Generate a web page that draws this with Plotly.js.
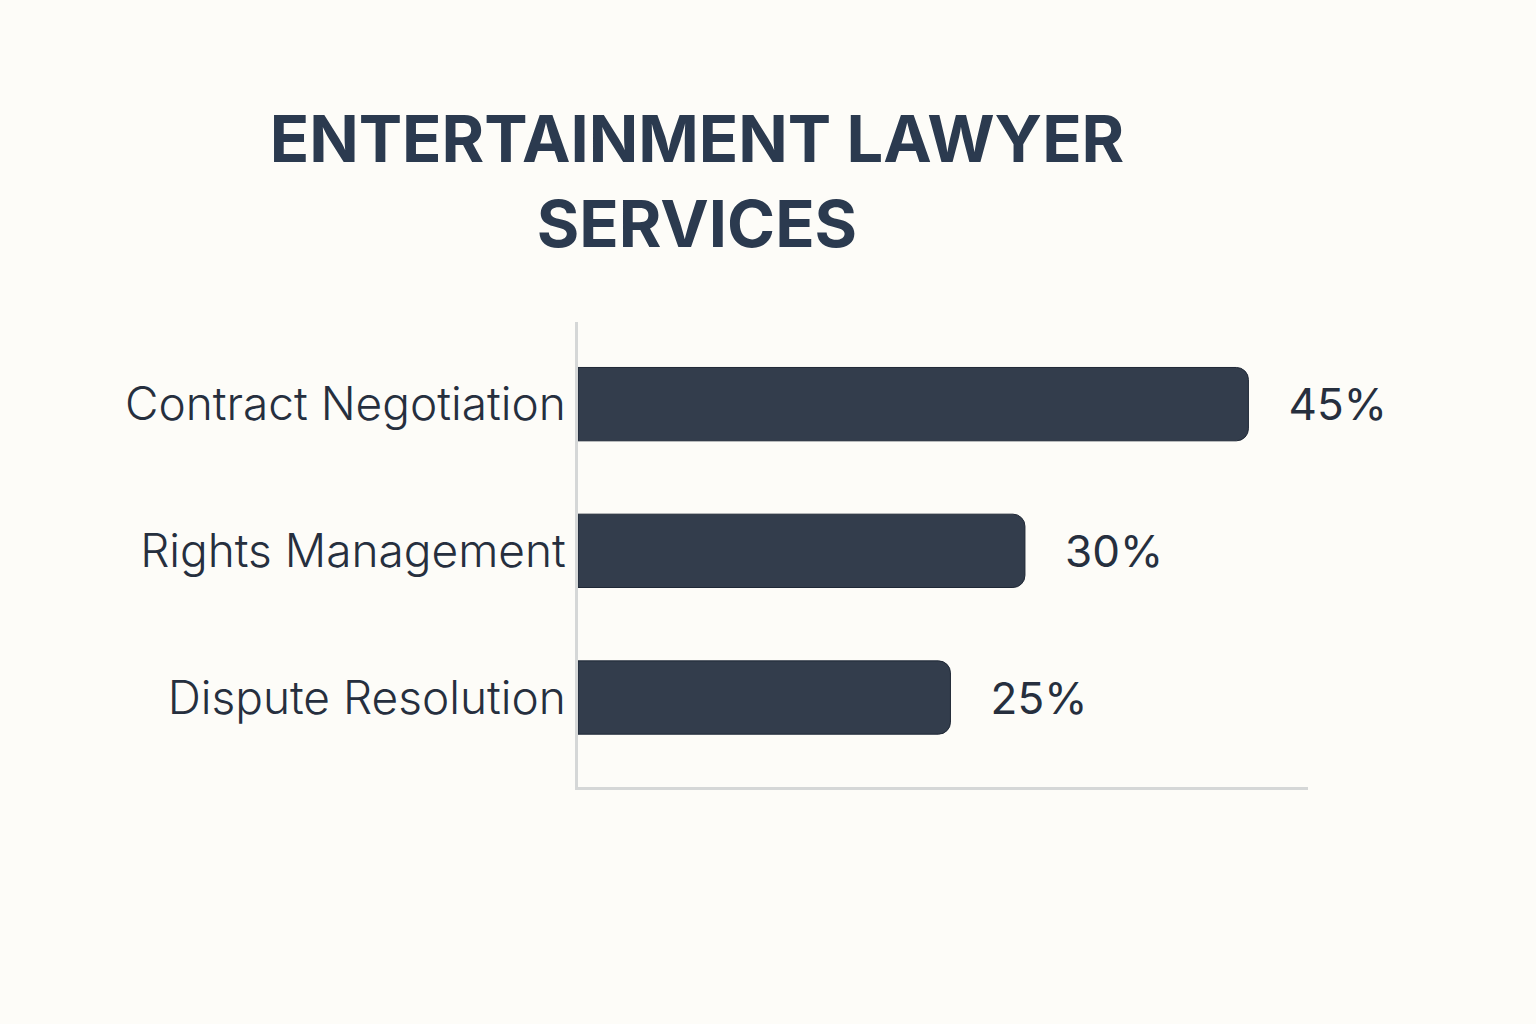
<!DOCTYPE html>
<html>
<head>
<meta charset="utf-8">
<script src="https://cdn.plot.ly/plotly-3.0.1.min.js"></script>
<style>
  html, body { margin: 0; padding: 0; background: #fdfcf8; }
  #chart { width: 1536px; height: 1024px; }
</style>
</head>
<body>
<div id="chart"></div>
<script>
// Share of entertainment-lawyer work by service (percent).
// Listed bottom -> top so Contract Negotiation sits at the top of the axis.
const services = ["Dispute Resolution", "Rights Management", "Contract Negotiation"];
const shares = [25, 30, 45];

const BAR = "#333d4c";
const BAR_EDGE = "#1f2836";
const INK = "#262f3e";
const TITLE_INK = "#2b3a4f";
const AXIS = "#d5d7d7";
const BG = "#fdfcf8";

const trace = {
  type: "bar",
  orientation: "h",
  x: shares,
  y: services,
  width: 0.5,
  marker: { color: BAR, line: { color: BAR_EDGE, width: 1 }, cornerradius: 12 },
  text: shares.map((v) => v + "%"),
  texttemplate: "\u00a0\u00a0\u00a0%{text}",
  textposition: "outside",
  cliponaxis: false,
  textfont: { family: "Inter, 'Noto Sans', sans-serif", size: 44, color: INK },
  hoverinfo: "skip",
};

const layout = {
  width: 1536,
  height: 1024,
  paper_bgcolor: BG,
  plot_bgcolor: BG,
  showlegend: false,
  margin: { l: 578, r: 228, t: 322, b: 237, pad: 0 },
  font: { family: "Inter, 'Noto Sans', sans-serif", color: INK },
  title: {
    text: "ENTERTAINMENT LAWYER<br>SERVICES",
    font: { family: "Inter, 'Noto Sans', sans-serif", size: 65, weight: 700, color: TITLE_INK },
    x: 697 / 1536,
    xanchor: "center",
    xref: "container",
    y: 1 - 162 / 1024,
    yanchor: "top",
    yref: "container",
  },
  xaxis: {
    range: [0, 49],
    showgrid: false,
    zeroline: false,
    showticklabels: false,
    ticks: "",
    showline: true,
    linecolor: AXIS,
    linewidth: 3,
    fixedrange: true,
  },
  yaxis: {
    type: "category",
    range: [-0.61, 2.56],
    showgrid: false,
    zeroline: false,
    ticks: "",
    showline: true,
    linecolor: AXIS,
    linewidth: 3,
    ticklabelstandoff: 0,
    tickfont: { family: "Inter, 'Noto Sans', sans-serif", size: 46, weight: 300, color: INK },
    fixedrange: true,
  },
};

Plotly.newPlot("chart", [trace], layout, { displayModeBar: false, staticPlot: true });
</script>
</body>
</html>
